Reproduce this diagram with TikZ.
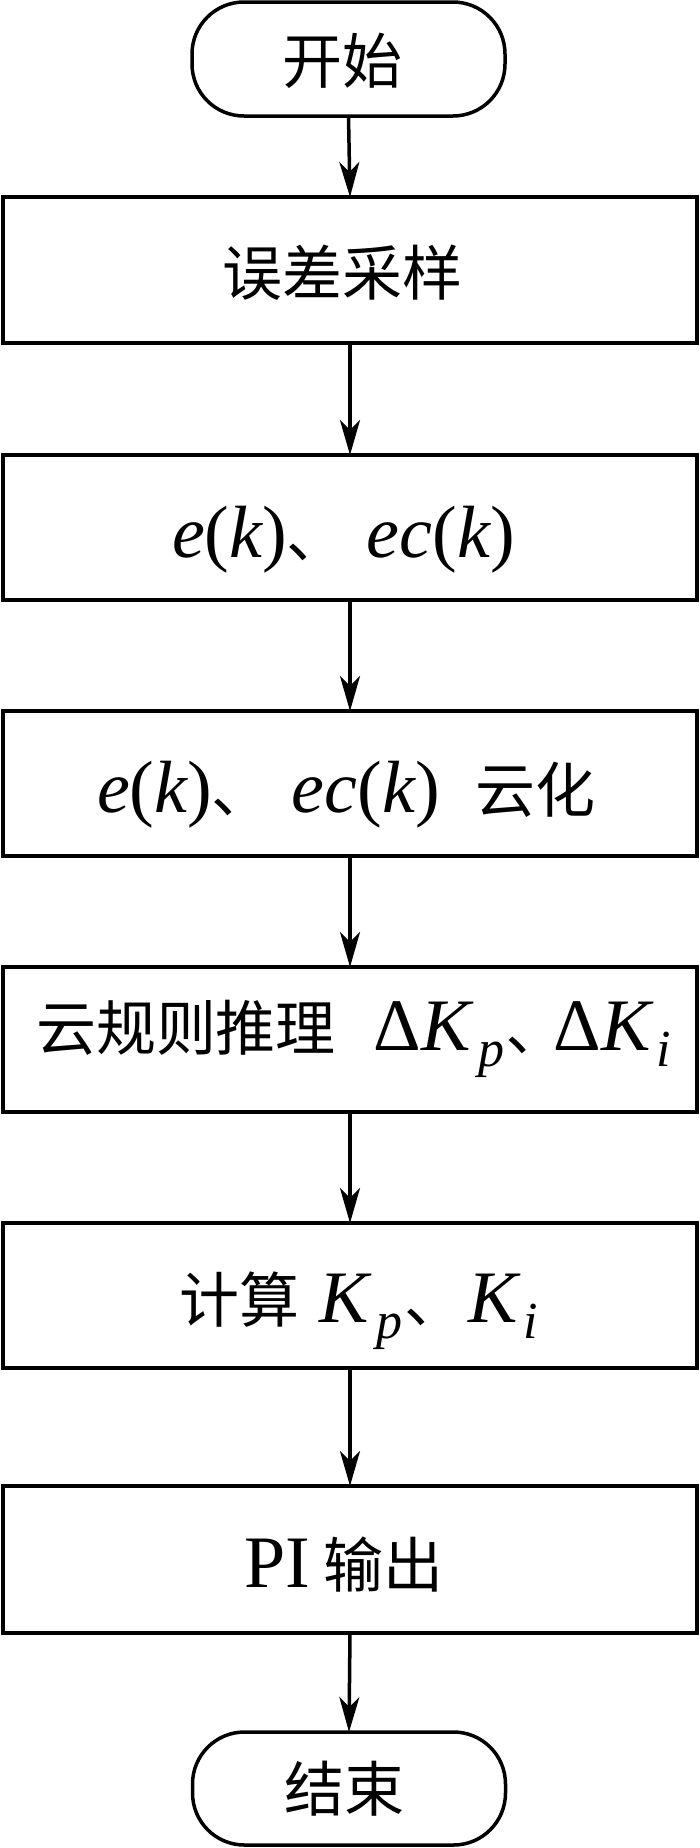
\documentclass[tikz,border=0pt]{standalone}
\usepackage{fontspec}
\setmainfont{Liberation Serif}
\newfontfamily\cjk{Noto Sans CJK SC}
\usetikzlibrary{arrows.meta}
\newcommand{\Lsz}{\fontsize{74}{80}\selectfont}
\newcommand{\zh}[1]{{\fontsize{60}{66}\selectfont\cjk #1}}
\newcommand{\vi}[1]{{\itshape #1}}
\newcommand{\subsc}[1]{\raisebox{-16pt}{\fontsize{52}{52}\selectfont\itshape #1}}
\begin{document}
\begin{tikzpicture}[x=1pt,y=-1pt,
  box/.style={draw,line width=4.5pt,minimum width=694pt,inner sep=0pt,outer sep=0pt},
  term/.style={draw,line width=3.5pt,rounded corners=52pt,minimum width=313pt,minimum height=114pt,inner sep=0pt,outer sep=0pt},
  txt/.style={inner sep=0pt,outer sep=0pt},
  arr/.style={line width=3.5pt,-{Stealth[length=35pt,width=20pt,inset=10pt]}}]
\useasboundingbox (0,0) rectangle (700,1848);
\node[term] (start) at (348.5,59) {};
\node[box,minimum height=146pt] (b1) at (350,270) {};
\node[box,minimum height=145pt] (b2) at (350,527.5) {};
\node[box,minimum height=145pt] (b3) at (350,783.5) {};
\node[box,minimum height=145pt] (b4) at (350,1039.5) {};
\node[box,minimum height=145pt] (b5) at (350,1295.5) {};
\node[box,minimum height=147pt] (b6) at (350,1559.5) {};
\node[term,minimum height=113pt] (end) at (349,1788.5) {};
\node[txt,anchor=base] (t0) at (342,83) {\zh{开始}};
\node[txt,anchor=base] (t1) at (342,295) {\zh{误差采样}};
\node[txt,anchor=base west] (t2) at (172,557) {\Lsz\vi{e}(\vi{k})\zh{、}\hspace{20pt}\vi{ec}(\vi{k})};
\node[txt,anchor=base west] (t3) at (97,812) {\Lsz\vi{e}(\vi{k})\zh{、}\hspace{20pt}\vi{ec}(\vi{k})\hspace{36pt}\zh{云化}};
\node[txt,anchor=base west] (t4) at (36,1050) {\zh{云规则推理}\hspace{38pt}\Lsz Δ\vi{K}\hspace{8pt}\subsc{p}\hspace{3pt}\zh{､}\hspace{16pt}Δ\vi{K}\hspace{6pt}\subsc{i}};
\node[txt,anchor=base west] (t5) at (179,1322) {\zh{计算}\hspace{20pt}\Lsz\vi{K}\hspace{8pt}\subsc{p}\hspace{2pt}\zh{、}\hspace{4pt}\vi{K}\hspace{6pt}\subsc{i}};
\node[txt,anchor=base west] (t6) at (244,1587) {\Lsz PI\hspace{14pt}\zh{输出}};
\node[txt,anchor=base] (t7) at (344,1811) {\zh{结束}};
\draw[arr] (start.south) -- (b1.north);
\draw[arr,line width=4pt] (b1.south) -- (b2.north);
\draw[arr] (b2.south) -- (b3.north);
\draw[arr] (b3.south) -- (b4.north);
\draw[arr] (b4.south) -- (b5.north);
\draw[arr] (b5.south) -- (b6.north);
\draw[arr] (b6.south) -- (end.north);
\end{tikzpicture}
\end{document}
